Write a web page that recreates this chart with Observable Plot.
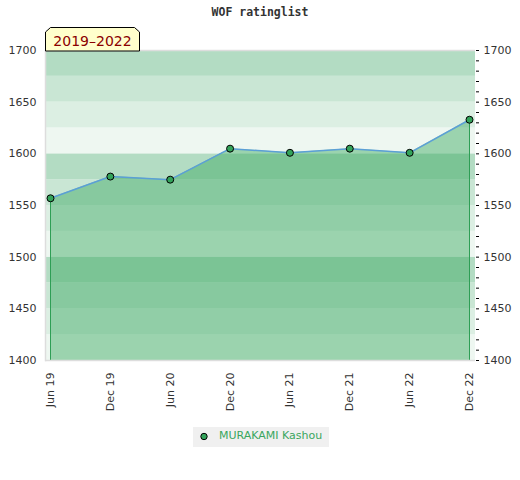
<!DOCTYPE html>
<html>
<head>
<meta charset="utf-8">
<script src="https://cdn.jsdelivr.net/npm/d3@7"></script>
<script src="https://cdn.jsdelivr.net/npm/@observablehq/plot@0.6"></script>
<style>
  html, body { margin: 0; padding: 0; background: #fff; }
  #wrap { position: relative; width: 520px; height: 480px; overflow: hidden; font-family: "DejaVu Sans", sans-serif; }
  #title { position: absolute; left: 0; top: 5px; width: 520px; text-align: center; font-family: "DejaVu Sans Mono", monospace; font-weight: bold; font-size: 11.5px; color: #333; }
  #chart { position: absolute; left: 0; top: 0; }
  #badge { position: absolute; left: 0; top: 0; }
  #legend { position: absolute; left: 193px; top: 427px; width: 136px; height: 20px; background: #f0f0f0; }
  #legend svg { position: absolute; left: 0; top: 0; }
  #legend span { position: absolute; left: 26px; top: 2px; font-size: 11px; color: #3aa65e; white-space: nowrap; }
</style>
</head>
<body>
<div id="wrap">
  <div id="chart"></div>
  <div id="title">WOF ratinglist</div>
  <svg id="badge" width="160" height="60">
    <polygon points="45.5,51 45.5,32 50.5,27.5 134.5,27.5 139.5,32 139.5,51" fill="#ffffcc" stroke="#000" stroke-width="1"></polygon>
    <text x="92.5" y="46" text-anchor="middle" font-family="DejaVu Sans, sans-serif" font-size="14" fill="#8b0000">2019–2022</text>
  </svg>
  <div id="legend">
    <svg width="24" height="20"><circle cx="11" cy="9.5" r="3.2" fill="#33a35a" stroke="#000" stroke-width="1"></circle></svg>
    <span>MURAKAMI Kashou</span>
  </div>
</div>
<script>
const dates = ["Jun 19", "Dec 19", "Jun 20", "Dec 20", "Jun 21", "Dec 21", "Jun 22", "Dec 22"];
const ratings = [1557, 1578, 1575, 1605, 1601, 1605, 1601, 1633];
const yTicks = [1400, 1450, 1500, 1550, 1600, 1650, 1700];
const minorTicks = d3.range(1400, 1701, 10);
const bandEdges = d3.range(1400, 1700, 25);
const bandColors = ["#eef7f1", "#dcefe3", "#c9e6d4", "#b3dcc3"];

const data = dates.map((d, i) => ({date: d, rating: ratings[i]}));
const bands = bandEdges.map(b => ({y1: b, y2: b + 25, c: bandColors[((b - 1400) / 25) % 4]}));
const first = data[0], last = data[data.length - 1];

const chart = Plot.plot({
  width: 520,
  height: 420,
  marginLeft: 45,
  marginRight: 45,
  marginTop: 50,
  marginBottom: 60,
  style: {fontFamily: "DejaVu Sans, sans-serif", fontSize: "11px", color: "#333", background: "transparent"},
  x: {type: "point", domain: dates, padding: 0, round: false, insetLeft: 5, insetRight: 6},
  y: {domain: [1400, 1700]},
  marks: [
    Plot.rectY(bands, {y1: "y1", y2: "y2", fill: "c"}),
    Plot.areaY(data, {x: "date", y1: 1400, y2: "rating", fill: "#39a85f", fillOpacity: 0.46}),
    Plot.ruleX([first, last], {x: "date", y1: 1400, y2: "rating", stroke: "#2e9e55", strokeWidth: 1}),
    Plot.ruleY([1700, 1400], {stroke: "#dddddd", strokeWidth: 1.5}),
    Plot.frame({anchor: "left", stroke: "#dddddd", strokeWidth: 1.5}),
    Plot.line(data, {x: "date", y: "rating", stroke: "#5b9fd6", strokeWidth: 1.5}),
    Plot.dot(data, {x: "date", y: "rating", r: 3.5, fill: "#33a35a", stroke: "#000", strokeWidth: 1}),
    Plot.axisY({anchor: "left", ticks: yTicks, tickSize: 0, tickPadding: 9, tickFormat: d => String(d), fill: "#333", label: null}),
    Plot.axisY({anchor: "right", ticks: minorTicks, tickSize: 3, tickFormat: () => "", stroke: "#000", label: null}),
    Plot.axisY({anchor: "right", ticks: yTicks, tickSize: 0, tickPadding: 8, tickFormat: d => String(d), fill: "#333", label: null}),
    Plot.axisX({ticks: dates, tickRotate: -90, tickSize: 0, tickPadding: 12, fill: "#333", label: null})
  ]
});
document.getElementById("chart").appendChild(chart);
</script>
</body>
</html>
